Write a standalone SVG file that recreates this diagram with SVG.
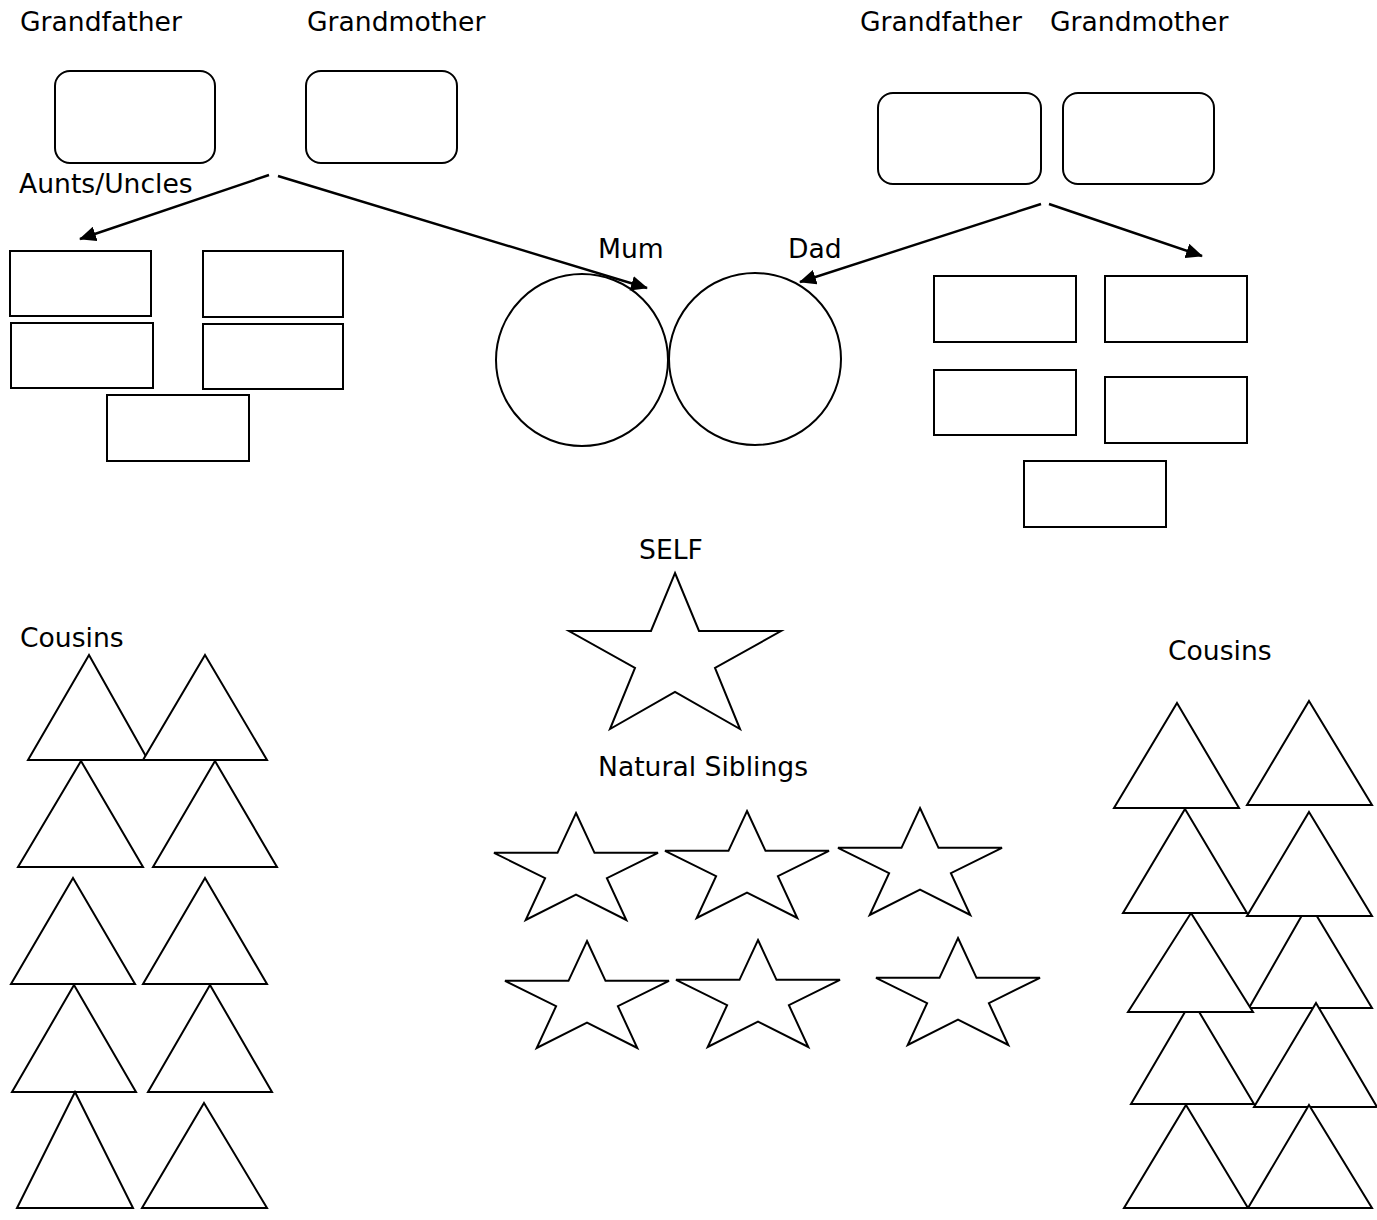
<svg xmlns="http://www.w3.org/2000/svg" width="1377" height="1220" viewBox="0 0 1377 1220">
<style>
text{font-family:"DejaVu Sans","Liberation Sans",sans-serif;font-size:26.6px;fill:#000}
.s{fill:#fff;stroke:#000;stroke-width:2;stroke-linejoin:miter}
.c{stroke:#000;stroke-width:2.4;fill:none}
</style>
<defs>
<marker id="ah" markerUnits="userSpaceOnUse" markerWidth="17" markerHeight="15" viewBox="0 0 17 15" refX="16" refY="7.5" orient="auto">
<path d="M0,0 L17,7.5 L0,15 z" fill="#000"/>
</marker>
</defs>
<rect width="1377" height="1220" fill="#fff"/>

<g id="labels">
<text x="20" y="31">Grandfather</text>
<text x="307" y="31">Grandmother</text>
<text x="860" y="31">Grandfather</text>
<text x="1050" y="31">Grandmother</text>
<text x="19" y="193">Aunts/Uncles</text>
<text x="598" y="258">Mum</text>
<text x="788" y="258">Dad</text>
<text x="639" y="559">SELF</text>
<text x="20" y="647">Cousins</text>
<text x="1168" y="660">Cousins</text>
<text x="598" y="776">Natural Siblings</text>
</g>

<g id="grandparents-left">
<rect id="gf-left" class="s" x="55" y="71" width="160" height="92" rx="15"/>
<rect id="gm-left" class="s" x="306" y="71" width="151" height="92" rx="15"/>
</g>
<g id="grandparents-right">
<rect id="gf-right" class="s" x="878" y="93" width="163" height="91" rx="15"/>
<rect id="gm-right" class="s" x="1063" y="93" width="151" height="91" rx="15"/>
</g>

<g id="aunts-left">
<rect class="s" x="10" y="251" width="141" height="65"/>
<rect class="s" x="203" y="251" width="140" height="66"/>
<rect class="s" x="11" y="323" width="142" height="65"/>
<rect class="s" x="203" y="324" width="140" height="65"/>
<rect class="s" x="107" y="395" width="142" height="66"/>
</g>
<g id="aunts-right">
<rect class="s" x="934" y="276" width="142" height="66"/>
<rect class="s" x="1105" y="276" width="142" height="66"/>
<rect class="s" x="934" y="370" width="142" height="65"/>
<rect class="s" x="1105" y="377" width="142" height="66"/>
<rect class="s" x="1024" y="461" width="142" height="66"/>
</g>

<g id="mum"><circle class="s" cx="582" cy="360" r="86"/></g>
<g id="dad"><circle class="s" cx="755" cy="359" r="86"/></g>

<g id="connectors">
<line class="c" x1="269" y1="175" x2="80" y2="239" marker-end="url(#ah)"/>
<line class="c" x1="278" y1="176" x2="647" y2="288" marker-end="url(#ah)"/>
<line class="c" x1="1041" y1="204" x2="800" y2="282" marker-end="url(#ah)"/>
<line class="c" x1="1049" y1="204" x2="1202" y2="256" marker-end="url(#ah)"/>
</g>

<g id="self">
<polygon class="s" points="675,573 699,631 781,631 715,668 740,729 675,692 610,729 635,668 569,631 651,631"/>
</g>

<g id="siblings">
<polygon class="s" points="576,813 594.5,852.8 658,852.8 606.9,878.2 626.3,920 576,894.6 525.7,920 545.1,878.2 494,852.8 557.5,852.8"/>
<polygon class="s" points="747,811 765.5,850.8 829,850.8 777.9,876.2 797.3,918 747,892.6 696.7,918 716.1,876.2 665,850.8 728.5,850.8"/>
<polygon class="s" points="920,808 938.5,847.8 1002,847.8 950.9,873.2 970.3,915 920,889.6 869.7,915 889.1,873.2 838,847.8 901.5,847.8"/>
<polygon class="s" points="587,941 605.5,980.8 669,980.8 617.9,1006.2 637.3,1048 587,1022.6 536.7,1048 556.1,1006.2 505,980.8 568.5,980.8"/>
<polygon class="s" points="758,940 776.5,979.8 840,979.8 788.9,1005.2 808.3,1047 758,1021.6 707.7,1047 727.1,1005.2 676,979.8 739.5,979.8"/>
<polygon class="s" points="958,938 976.5,977.8 1040,977.8 988.9,1003.2 1008.3,1045 958,1019.6 907.7,1045 927.1,1003.2 876,977.8 939.5,977.8"/>
</g>

<g id="cousins-left">
<polygon class="s" points="89,655 148,760 28,760"/>
<polygon class="s" points="205,655 267,760 143,760"/>
<polygon class="s" points="81,761 143,867 18,867"/>
<polygon class="s" points="215,761 277,867 153,867"/>
<polygon class="s" points="73,878 135,984 11,984"/>
<polygon class="s" points="205,878 267,984 143,984"/>
<polygon class="s" points="74,985 136,1092 12,1092"/>
<polygon class="s" points="210,985 272,1092 148,1092"/>
<polygon class="s" points="75,1092 133,1208 17,1208"/>
<polygon class="s" points="204,1103 267,1208 142,1208"/>
</g>

<g id="cousins-right">
<polygon class="s" points="1177,703 1239,808 1114,808"/>
<polygon class="s" points="1309,701 1372,805 1247,805"/>
<polygon class="s" points="1192,1000 1254,1104 1131,1104"/>
<polygon class="s" points="1309,903 1372,1008 1249,1008"/>
<polygon class="s" points="1316,1003 1377,1107 1254,1107"/>
<polygon class="s" points="1191,913 1253,1012 1128,1012"/>
<polygon class="s" points="1185,809 1247,913 1123,913"/>
<polygon class="s" points="1309,812 1372,916 1247,916"/>
<polygon class="s" points="1186,1105 1248,1208 1124,1208"/>
<polygon class="s" points="1309,1105 1372,1208 1248,1208"/>
</g>
</svg>
